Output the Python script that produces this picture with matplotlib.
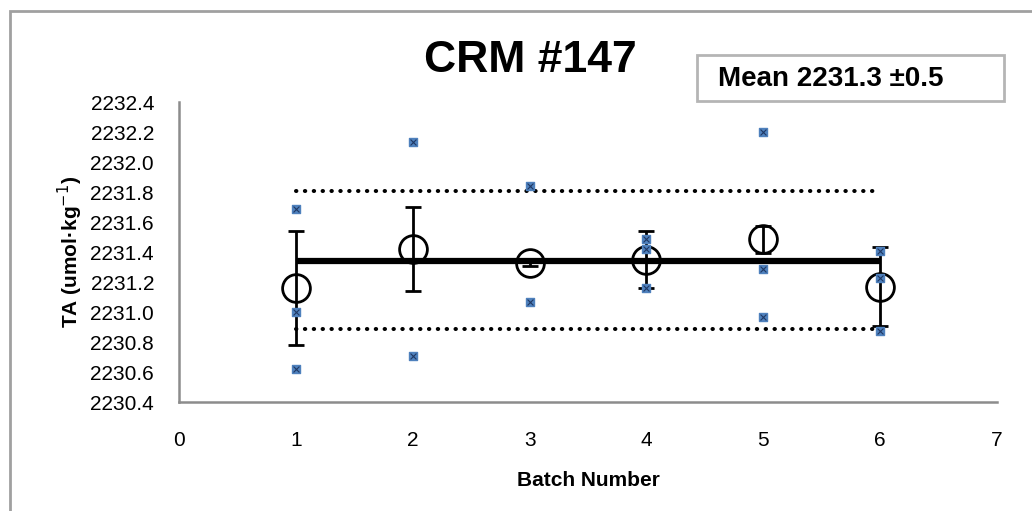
import numpy as np
import matplotlib.pyplot as plt
from matplotlib.patches import Rectangle

# batch means with standard deviation
batches = [1, 2, 3, 4, 5, 6]
batch_mean = [2231.16, 2231.42, 2231.33, 2231.35, 2231.485, 2231.17]
batch_err = [0.38, 0.28, 0.02, 0.19, 0.09, 0.26]

# individual measurements per batch
meas_x = [1, 1, 1, 2, 2, 3, 3, 4, 4, 4, 5, 5, 5, 6, 6, 6]
meas_y = [2231.69, 2231.00, 2230.62,
          2232.135, 2230.71,
          2231.84, 2231.07,
          2231.49, 2231.42, 2231.16,
          2232.198, 2231.287, 2230.969,
          2231.407, 2231.229, 2230.875]

overall_mean = 2231.34
upper_lim = 2231.805
lower_lim = 2230.885
line_x = [1, 6]

yticks = np.round(np.arange(2230.4, 2232.41, 0.2), 1)
xticks = [0, 1, 2, 3, 4, 5, 6, 7]

plt.rcParams['font.family'] = ['Liberation Sans', 'DejaVu Sans']

fig = plt.figure(figsize=(10.32, 5.11), dpi=100)
ax = fig.add_axes([179 / 1032, 1 - 402 / 511, (997 - 179) / 1032, 300 / 511])

# outer chart frame
fig.patches.append(Rectangle((10 / 1032, -0.1), 1.2, 1 - 11 / 511 + 0.1,
                             transform=fig.transFigure, fill=False,
                             edgecolor='#a0a0a0', linewidth=2))

dots = (0, (0.1, 2.1))
ax.plot(line_x, [upper_lim, upper_lim], color='black', linestyle=dots,
        linewidth=2.9, dash_capstyle='round', zorder=2)
ax.plot(line_x, [lower_lim, lower_lim], color='black', linestyle=dots,
        linewidth=2.9, dash_capstyle='round', zorder=2)
ax.plot(line_x, [overall_mean, overall_mean], color='black', linewidth=4.5,
        solid_capstyle='butt', zorder=3)

ax.errorbar(batches, batch_mean, yerr=batch_err, fmt='o', markersize=20,
            markerfacecolor='none', markeredgecolor='black', markeredgewidth=2,
            ecolor='black', elinewidth=2, capsize=6, capthick=2, zorder=4)

ax.scatter(meas_x, meas_y, marker='s', s=30, color='#4f81bd', zorder=5)
ax.scatter(meas_x, meas_y, marker='x', s=18, color='#1f3864', linewidths=0.8, zorder=6)

ax.set_xlim(0, 7)
ax.set_ylim(2230.4, 2232.4)
ax.set_xticks(xticks)
ax.set_yticks(yticks)
ax.set_yticklabels([f'{v:.1f}' for v in yticks])
ax.tick_params(axis='both', length=0, labelsize=15)
ax.tick_params(axis='x', pad=21)
ax.tick_params(axis='y', pad=18)

for side in ['top', 'right']:
    ax.spines[side].set_visible(False)
for side in ['left', 'bottom']:
    ax.spines[side].set_color('#8c8c8c')
    ax.spines[side].set_linewidth(1.8)

ax.set_xlabel('Batch Number', fontsize=15, fontweight='bold', labelpad=15)
ax.set_ylabel('TA (umol·kg$^{-1}$)', fontsize=15, fontweight='bold', labelpad=4)

fig.text(530 / 1032, 1 - 60 / 511, 'CRM #147', fontsize=32, fontweight='bold',
         ha='center', va='center')

fig.patches.append(Rectangle((697 / 1032, 1 - 101 / 511), 307 / 1032, 46 / 511,
                             transform=fig.transFigure, fill=False,
                             edgecolor='#b5b5b5', linewidth=2))
fig.text(718 / 1032, 1 - 79 / 511, 'Mean 2231.3 ±0.5', fontsize=20, fontweight='bold',
         ha='left', va='center')

fig.savefig('out.png', dpi=100)
